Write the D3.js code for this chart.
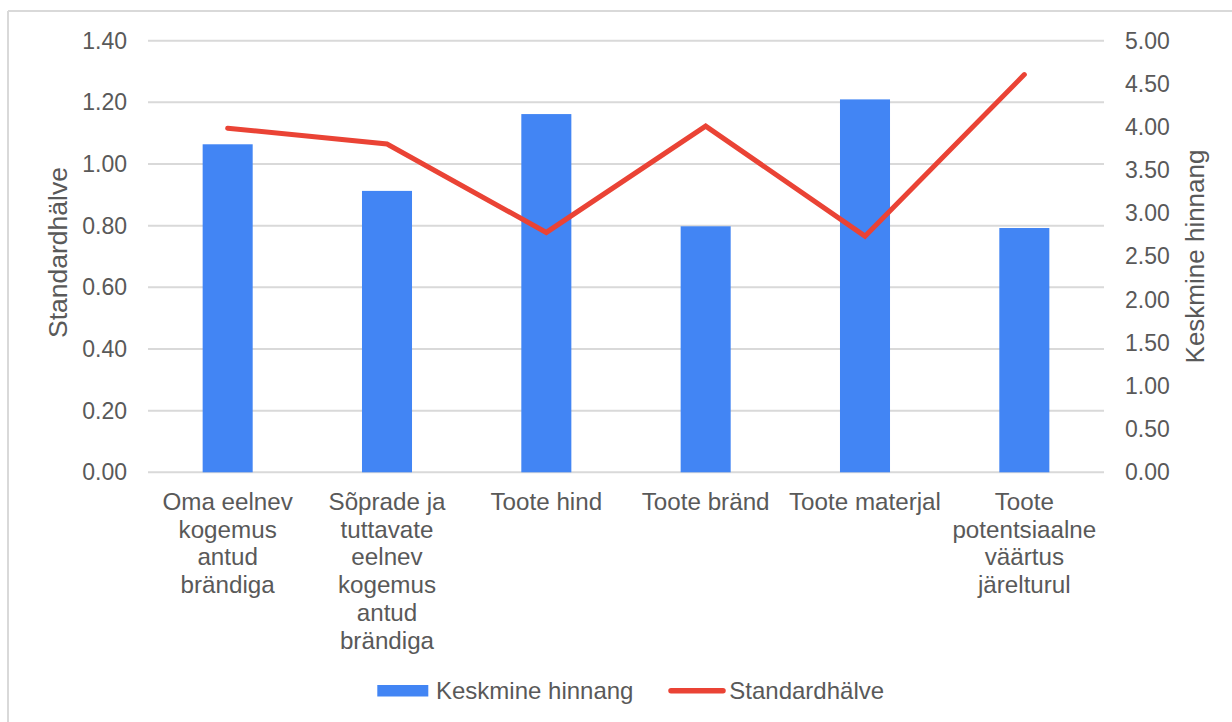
<!DOCTYPE html>
<html>
<head>
<meta charset="utf-8">
<script src="https://cdn.jsdelivr.net/npm/d3@7"></script>
<style>
  html, body { margin: 0; padding: 0; background: #fff; }
  svg { display: block; font-family: "Liberation Sans", Arial, sans-serif; }
</style>
</head>
<body>
<svg id="chart" width="1232" height="722"></svg>
<script>
// Categories (each label split into the lines it is drawn on)
const categories = [
  ["Oma eelnev", "kogemus", "antud", "brändiga"],
  ["Sõprade ja", "tuttavate", "eelnev", "kogemus", "antud", "brändiga"],
  ["Toote hind"],
  ["Toote bränd"],
  ["Toote materjal"],
  ["Toote", "potentsiaalne", "väärtus", "järelturul"]
];
// Bars: mean rating (right axis)
const meanRating = [3.80, 3.26, 4.15, 2.85, 4.32, 2.83];
// Line: standard deviation (left axis)
const stdDev = [1.116, 1.065, 0.778, 1.123, 0.766, 1.290];

const leftTicks = [0, 0.2, 0.4, 0.6, 0.8, 1.0, 1.2, 1.4];
const rightTicks = [0, 0.5, 1, 1.5, 2, 2.5, 3, 3.5, 4, 4.5, 5];

const seriesNames = ["Keskmine hinnang", "Standardhälve"];
const barColor = "#4285F4";
const lineColor = "#EA4335";
const textColor = "#595959";
const gridColor = "#D9D9D9";

const svg = d3.select("#chart");
const plot = { left: 148, right: 1104, top: 40.7, bottom: 472.3 };

// frame
svg.append("line").attr("x1", 8).attr("x2", 8).attr("y1", 11).attr("y2", 722)
  .attr("stroke", gridColor).attr("stroke-width", 2);
svg.append("line").attr("x1", 8).attr("x2", 1232).attr("y1", 11).attr("y2", 11)
  .attr("stroke", gridColor).attr("stroke-width", 2);

const x = d3.scaleBand().domain(d3.range(categories.length))
  .range([plot.left, plot.right]).padding(0);
const yLeft = d3.scaleLinear().domain([0, 1.4]).range([plot.bottom, plot.top]);
const yRight = d3.scaleLinear().domain([0, 5]).range([plot.bottom, plot.top]);

// grid lines
svg.append("g").selectAll("line").data(leftTicks).join("line")
  .attr("x1", plot.left).attr("x2", plot.right)
  .attr("y1", d => yLeft(d)).attr("y2", d => yLeft(d))
  .attr("stroke", gridColor).attr("stroke-width", 2);

// left axis
const gl = svg.append("g").attr("transform", `translate(${plot.left},0)`)
  .call(d3.axisLeft(yLeft).tickValues(leftTicks).tickFormat(d3.format(".2f")).tickSize(0).tickPadding(21));
gl.select(".domain").remove();
gl.selectAll("text").attr("fill", textColor).style("font-size", "23px")
  .style("font-family", "'Liberation Sans', Arial, sans-serif");

// right axis
const gr = svg.append("g").attr("transform", `translate(${plot.right},0)`)
  .call(d3.axisRight(yRight).tickValues(rightTicks).tickFormat(d3.format(".2f")).tickSize(0).tickPadding(21));
gr.select(".domain").remove();
gr.selectAll("text").attr("fill", textColor).style("font-size", "23px")
  .style("font-family", "'Liberation Sans', Arial, sans-serif");

// bars
const barW = x.bandwidth() * 0.314;
svg.append("g").selectAll("rect").data(meanRating).join("rect")
  .attr("x", (d, i) => x(i) + x.bandwidth() / 2 - barW / 2)
  .attr("width", barW)
  .attr("y", d => yRight(d))
  .attr("height", d => plot.bottom - yRight(d))
  .attr("fill", barColor);

// standard deviation line
const line = d3.line()
  .x((d, i) => x(i) + x.bandwidth() / 2)
  .y(d => yLeft(d));
svg.append("path").datum(stdDev).attr("d", line)
  .attr("fill", "none").attr("stroke", lineColor).attr("stroke-width", 5)
  .attr("stroke-linejoin", "miter").attr("stroke-linecap", "round");

// category labels
const cat = svg.append("g").selectAll("text").data(categories).join("text")
  .attr("text-anchor", "middle").attr("fill", textColor)
  .style("font-size", "24.2px")
  .attr("x", (d, i) => x(i) + x.bandwidth() / 2)
  .attr("y", 510);
cat.selectAll("tspan").data(d => d).join("tspan")
  .attr("x", function () { return d3.select(this.parentNode).attr("x"); })
  .attr("dy", (d, i) => i === 0 ? 0 : 27.7)
  .text(d => d);

// axis titles
svg.append("text").attr("transform", `translate(66.5,${(plot.top + plot.bottom) / 2 - 4}) rotate(-90)`)
  .attr("text-anchor", "middle").attr("fill", textColor).style("font-size", "26.5px")
  .text(seriesNames[1]);
svg.append("text").attr("transform", `translate(1204,${(plot.top + plot.bottom) / 2}) rotate(-90)`)
  .attr("text-anchor", "middle").attr("fill", textColor).style("font-size", "26px")
  .text(seriesNames[0]);

// legend
const lg = svg.append("g");
lg.append("rect").attr("x", 377.3).attr("y", 685).attr("width", 51).attr("height", 11.5).attr("fill", barColor);
lg.append("text").attr("x", 436).attr("y", 699).attr("fill", textColor).style("font-size", "24px").text(seriesNames[0]);
lg.append("line").attr("x1", 671).attr("x2", 723).attr("y1", 690.7).attr("y2", 690.7)
  .attr("stroke", lineColor).attr("stroke-width", 5.5).attr("stroke-linecap", "round");
lg.append("text").attr("x", 729.3).attr("y", 699).attr("fill", textColor).style("font-size", "24px").text(seriesNames[1]);
</script>
</body>
</html>
